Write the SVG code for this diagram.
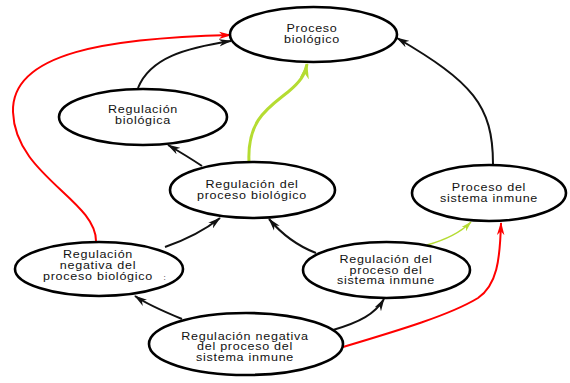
<svg xmlns="http://www.w3.org/2000/svg" width="570" height="383" viewBox="0 0 570 383">
  <style>
    .node ellipse { fill: #fff; stroke: #000; stroke-width: 2.6; }
    .node text { font-family: "Liberation Sans", Arial, sans-serif; font-size: 10.3px; letter-spacing: 0.6px; fill: #111; text-anchor: middle; }
    .edge { fill: none; stroke-width: 2; }
    .black { stroke: #111; marker-end: url(#arrow-black); }
    .red { stroke: #f00; marker-end: url(#arrow-red); }
    .green { stroke: #b5dc32; stroke-width: 3; marker-end: url(#arrow-green); }
    .green-thin { stroke: #b5dc32; stroke-width: 1.4; marker-end: url(#arrow-green-s); }
  </style>
  <defs>
    <!-- slim barbed arrowheads -->
    <marker id="arrow-black" viewBox="0 0 14 8" refX="13" refY="4" markerWidth="13" markerHeight="8" markerUnits="userSpaceOnUse" orient="auto">
      <path d="M0,0 L14,4 L0,8 L4,4 z" fill="#111"/>
    </marker>
    <marker id="arrow-red" viewBox="0 0 14 8" refX="13" refY="4" markerWidth="13" markerHeight="8" markerUnits="userSpaceOnUse" orient="auto">
      <path d="M0,0 L14,4 L0,8 L4,4 z" fill="#f00"/>
    </marker>
    <marker id="arrow-green" viewBox="0 0 14 8" refX="13" refY="4" markerWidth="16" markerHeight="11" markerUnits="userSpaceOnUse" orient="auto">
      <path d="M0,0 L14,4 L0,8 L4,4 z" fill="#b5dc32"/>
    </marker>
    <marker id="arrow-green-s" viewBox="0 0 14 8" refX="13" refY="4" markerWidth="11" markerHeight="7" markerUnits="userSpaceOnUse" orient="auto">
      <path d="M0,0 L14,4 L0,8 L4,4 z" fill="#b5dc32"/>
    </marker>
  </defs>

  <g id="connectors">
    <path class="edge red" d="M96,241 C96,200 15,175 13,112 C11,52 110,38 231,35"/>
    <path class="edge black" d="M138,88 C150,58 185,48 231,41"/>
    <path class="edge green" d="M249,162 C247,120 268,108 288,92 C300,82 305,75 307,64"/>
    <path class="edge black" d="M202,166 C190,158 180,152 168,145"/>
    <path class="edge black" d="M493,164 C493,105 472,82 397,38"/>
    <path class="edge black" d="M165,247 C185,240 205,230 220,218"/>
    <path class="edge black" d="M316,253 C295,245 280,232 269,219"/>
    <path class="edge green-thin" d="M427,245 C445,240 460,233 471,222"/>
    <path class="edge black" d="M182,319 C165,312 148,305 135,296"/>
    <path class="edge black" d="M333,330 C360,322 375,314 384,299"/>
    <path class="edge red" d="M343,347 C400,330 450,315 478,298 C497,285 500,260 501,223"/>
  </g>

  <g id="proceso-biologico" class="node">
    <ellipse cx="313.5" cy="34.5" rx="83.5" ry="27.5"/>
    <g transform="translate(312,0) scale(1.22,1)">
      <text x="0" y="32">Proceso</text>
      <text x="0" y="43">biológico</text>
    </g>
  </g>
  <g id="regulacion-biologica" class="node">
    <ellipse cx="143" cy="117" rx="84" ry="28"/>
    <g transform="translate(143,0) scale(1.22,1)">
      <text x="0" y="113">Regulación</text>
      <text x="0" y="124">biológica</text>
    </g>
  </g>
  <g id="regulacion-proceso-biologico" class="node">
    <ellipse cx="252.5" cy="190" rx="82.5" ry="28"/>
    <g transform="translate(252,0) scale(1.22,1)">
      <text x="0" y="188">Regulación del</text>
      <text x="0" y="199">proceso biológico</text>
    </g>
  </g>
  <g id="proceso-sistema-inmune" class="node">
    <ellipse cx="489" cy="193" rx="77" ry="28"/>
    <g transform="translate(489,0) scale(1.22,1)">
      <text x="0" y="191">Proceso del</text>
      <text x="0" y="202">sistema inmune</text>
    </g>
  </g>
  <g id="regulacion-negativa-proceso-biologico" class="node">
    <ellipse cx="99" cy="269" rx="84" ry="27"/>
    <g transform="translate(98,0) scale(1.22,1)">
      <text x="0" y="258">Regulación</text>
      <text x="0" y="269">negativa del</text>
      <text x="0" y="280">proceso biológico</text>
    </g>
    <text x="165" y="280" style="font-size:8px">:</text>
  </g>
  <g id="regulacion-proceso-sistema-inmune" class="node">
    <ellipse cx="386.5" cy="270" rx="83.5" ry="28"/>
    <g transform="translate(386,0) scale(1.22,1)">
      <text x="0" y="263">Regulación del</text>
      <text x="0" y="274">proceso del</text>
      <text x="0" y="284">sistema inmune</text>
    </g>
  </g>
  <g id="regulacion-negativa-sistema-inmune" class="node">
    <ellipse cx="246" cy="344" rx="97" ry="31"/>
    <g transform="translate(245,0) scale(1.22,1)">
      <text x="0" y="340">Regulación negativa</text>
      <text x="0" y="350">del proceso del</text>
      <text x="0" y="361">sistema inmune</text>
    </g>
  </g>
</svg>
